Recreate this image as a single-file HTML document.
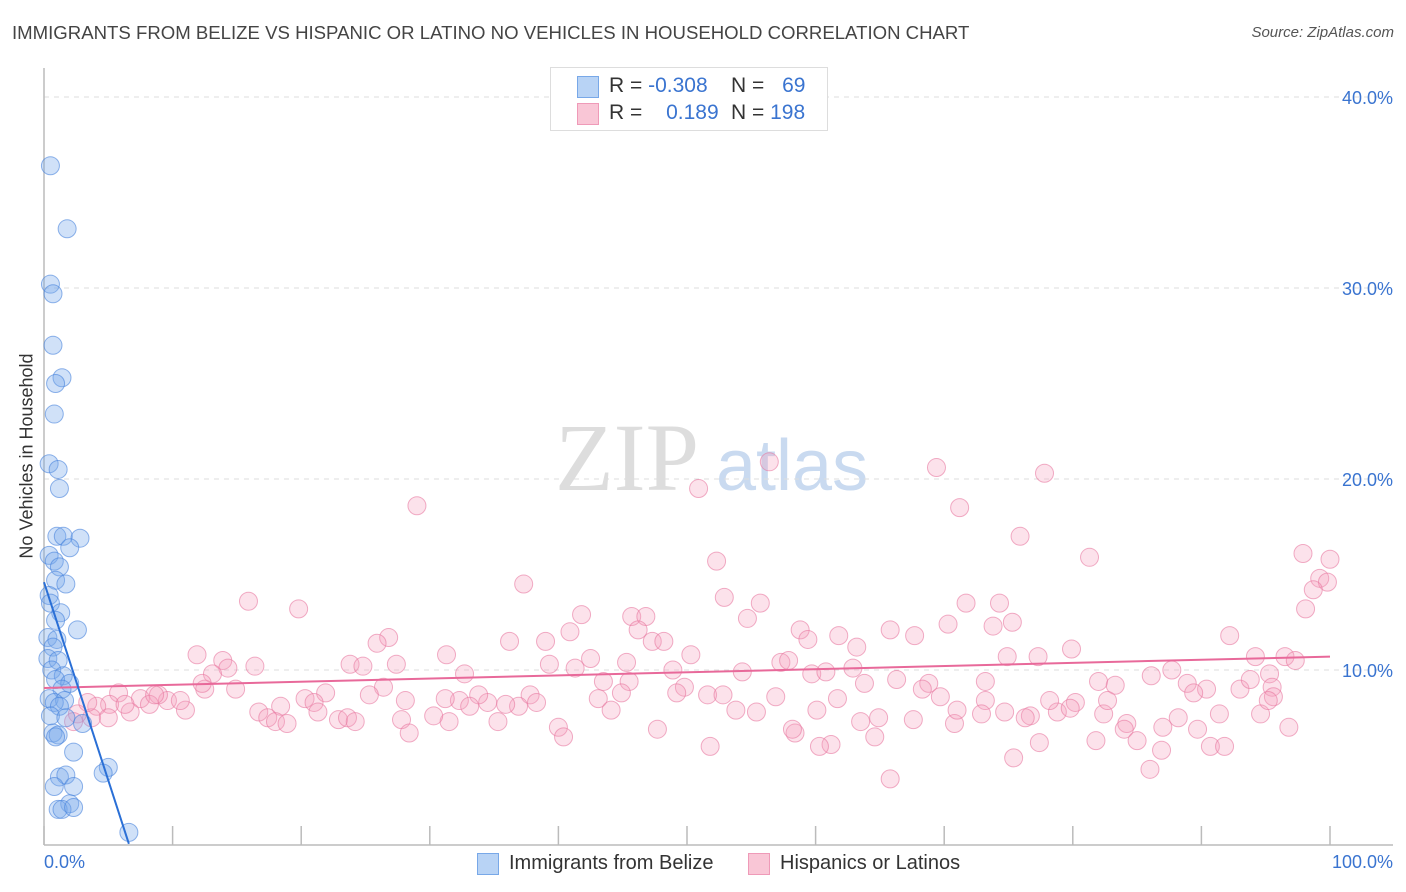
<!DOCTYPE html>
<html><head><meta charset="utf-8"><style>
body{margin:0;background:#fff;font-family:"Liberation Sans",sans-serif;}
#wrap{position:relative;width:1406px;height:892px;overflow:hidden;}
.t{position:absolute;white-space:nowrap;}
</style></head><body>
<div id="wrap">
<div class="t" style="left:12px;top:22px;font-size:18.6px;color:#444;">IMMIGRANTS FROM BELIZE VS HISPANIC OR LATINO NO VEHICLES IN HOUSEHOLD CORRELATION CHART</div>
<div class="t" style="right:12px;top:24px;font-size:15px;color:#555;font-style:italic;">Source: ZipAtlas.com</div>
<svg id="svg" width="1406" height="892" style="position:absolute;left:0;top:0"></svg>
</div>
<script>
const yTicks=[10,20,30,40];
const yTickLabels=["10.0%","20.0%","30.0%","40.0%"];
const xTicks=[0,10,20,30,40,50,60,70,80,90,100];
const blueX=[0.5,1.8,0.5,0.7,0.7,1.4,0.9,0.8,0.4,1.1,1.2,1.0,1.5,2.8,2.0,0.4,0.8,1.2,0.9,1.7,0.4,0.5,1.3,0.9,2.6,0.3,1.0,0.7,0.3,1.1,0.6,1.5,0.9,2.0,1.4,0.4,1.6,0.8,1.2,0.5,1.7,3.0,0.7,1.1,0.9,2.3,5.0,4.6,1.2,1.7,2.3,0.8,2.0,1.1,1.4,2.3,6.6];
const blueY=[36.4,33.1,30.2,29.7,27.0,25.3,25.0,23.4,20.8,20.5,19.5,17.0,17.0,16.9,16.4,16.0,15.7,15.4,14.7,14.5,13.9,13.5,13.0,12.6,12.1,11.7,11.6,11.2,10.6,10.5,10.0,9.7,9.5,9.3,9.0,8.5,8.4,8.3,8.1,7.6,7.5,7.2,6.7,6.6,6.5,5.7,4.9,4.6,4.4,4.5,3.9,3.9,3.0,2.7,2.7,2.8,1.5];
const pinkX=[29.0,56.4,50.9,69.4,77.8,71.2,75.9,81.3,97.9,100,99.2,99.8,98.7,98.1,52.3,37.3,15.9,19.8,52.9,41.8,55.7,54.7,45.7,46.8,46.2,40.9,47.3,48.2,36.2,39.0,26.8,25.9,11.9,13.9,16.4,14.3,13.1,23.8,27.4,24.8,31.3,32.7,39.3,41.3,42.5,45.3,50.3,48.9,58.8,59.4,61.8,63.2,65.8,67.7,70.3,71.7,74.3,73.8,75.3,79.9,92.2,94.2,96.5,97.3,74.9,77.3,57.3,57.9,54.3,59.7,60.8,62.9,63.8,66.3,68.8,68.3,69.7,73.2,82.0,83.3,86.1,87.7,88.9,90.4,89.4,93.0,93.8,95.3,95.5,95.6,94.6,96.8,91.4,88.2,87.0,84.2,84.0,82.4,82.7,80.2,78.8,78.2,76.7,76.3,73.2,72.9,70.8,64.9,61.7,61.2,58.4,55.4,53.8,51.6,49.8,49.2,45.5,43.5,44.9,43.1,44.1,37.8,38.3,36.9,35.9,34.5,33.8,32.3,33.1,31.2,31.5,30.3,28.1,26.4,25.3,21.9,20.3,21.0,21.3,18.4,16.7,17.4,18.0,18.9,22.9,23.6,24.2,27.8,28.4,35.3,40.0,40.4,47.7,58.2,60.3,81.8,85.0,86.9,86.0,89.7,90.7,91.8,11.0,9.6,8.9,7.5,5.8,5.1,6.7,8.2,4.1,3.7,2.6,2.3,5.0,3.4,6.3,8.6,12.5,10.6,12.3,14.9,95.2,75.4,65.8,71.0,74.7,77.4,79.8,67.6,64.6,63.5,60.1,52.8,56.9,51.8];
const pinkY=[18.6,20.9,19.5,20.6,20.3,18.5,17.0,15.9,16.1,15.8,14.8,14.6,14.2,13.2,15.7,14.5,13.6,13.2,13.8,12.9,13.5,12.7,12.8,12.8,12.1,12.0,11.5,11.5,11.5,11.5,11.7,11.4,10.8,10.5,10.2,10.1,9.8,10.3,10.3,10.2,10.8,9.8,10.3,10.1,10.6,10.4,10.8,10.0,12.1,11.6,11.8,11.2,12.1,11.8,12.4,13.5,13.5,12.3,12.5,11.1,11.8,10.7,10.7,10.5,10.7,10.7,10.4,10.5,9.9,9.8,9.9,10.1,9.3,9.5,9.3,9.0,8.6,9.4,9.4,9.2,9.7,10.0,9.3,9.0,8.8,9.0,9.5,9.8,9.1,8.6,7.7,7.0,7.7,7.5,7.0,7.2,6.9,7.7,8.4,8.3,7.8,8.4,7.6,7.5,8.4,7.7,7.2,7.5,8.5,6.1,6.7,7.8,7.9,8.7,9.1,8.8,9.4,9.4,8.8,8.5,7.9,8.7,8.3,8.1,8.2,8.3,8.7,8.4,8.1,8.5,7.3,7.6,8.4,9.1,8.7,8.8,8.5,8.3,7.8,8.1,7.8,7.5,7.3,7.2,7.4,7.5,7.3,7.4,6.7,7.3,7.0,6.5,6.9,6.9,6.0,6.3,6.3,5.8,4.8,6.9,6.0,6.0,7.9,8.4,8.7,8.5,8.8,8.2,7.8,8.2,8.1,7.5,7.7,7.3,7.5,8.3,8.2,8.7,9.0,8.4,9.3,9.0,8.4,5.4,4.3,7.9,7.8,6.2,8.0,7.4,6.5,7.3,7.9,8.7,8.6,6.0];
const blueTrend=[0,14.6,6.6,0.9];
const pinkTrend=[0,9.06,100,10.7];

const X=v=>44+v*12.86, Y=v=>861-v*19.1;
const svg=document.getElementById('svg');
const NS='http://www.w3.org/2000/svg';
function mk(tag,attrs,parent){const e=document.createElementNS(NS,tag);for(const k in attrs)e.setAttribute(k,attrs[k]);(parent||svg).appendChild(e);return e;}
let wm=mk('text',{x:555,y:490,'font-size':96,'font-family':'Liberation Serif,serif',fill:'#ddd'});wm.textContent='ZIP';


let wm2=mk('text',{x:716,y:490,'font-size':72,'font-family':'Liberation Sans,sans-serif',fill:'#c9daf0'});wm2.textContent='atlas';


yTicks.forEach((v,i)=>{
 const g=mk('line',{x1:44,x2:1393,y1:Y(v),y2:Y(v),stroke:'#ddd','stroke-dasharray':'5,5'});
 
 
 const t=mk('text',{x:1393,y:Y(v)+7,'text-anchor':'end','font-size':18,fill:'#3a74d0'});t.textContent=yTickLabels[i];
 
 
});
let ax=mk('line',{x1:44,x2:44,y1:68,y2:845,stroke:'#bbb','stroke-width':1.5});


let bx=mk('line',{x1:44,x2:1393,y1:845,y2:845,stroke:'#bbb','stroke-width':1.5});


xTicks.forEach(v=>{const l=mk('line',{x1:X(v),x2:X(v),y1:826,y2:845,stroke:'#bbb','stroke-width':1.5});
 
 });
pinkX.forEach((v,i)=>{const c=mk('circle',{cx:X(v),cy:Y(pinkY[i]),r:9,fill:'rgba(244,160,190,0.3)',stroke:'rgba(232,120,160,0.6)','stroke-width':1});
 
 });
blueX.forEach((v,i)=>{const c=mk('circle',{cx:X(v),cy:Y(blueY[i]),r:9,fill:'rgba(120,170,235,0.35)',stroke:'rgba(70,130,220,0.6)','stroke-width':1});
 
 });
let pl=mk('line',{x1:X(pinkTrend[0]),y1:Y(pinkTrend[1]),x2:X(pinkTrend[2]),y2:Y(pinkTrend[3]),stroke:'#e8699a','stroke-width':2});


let bl=mk('line',{x1:X(blueTrend[0]),y1:Y(blueTrend[1]),x2:X(blueTrend[2]),y2:Y(blueTrend[3]),stroke:'#2a6fd6','stroke-width':2});


</script>
<div class="t" style="left:44px;top:852px;font-size:18px;color:#3a74d0;">0.0%</div>
<div class="t" style="right:13px;top:852px;font-size:18px;color:#3a74d0;">100.0%</div>
<div class="t" style="left:17px;top:456px;font-size:18px;color:#333;transform:translate(-50%,-50%) rotate(-90deg);transform-origin:center;margin-left:10px;">No Vehicles in Household</div>
<div style="position:absolute;left:550px;top:67px;width:276px;height:62px;border:1px solid #ddd;background:#fff;font-size:21px;">
 <div style="position:absolute;left:26px;top:8px;width:20px;height:20px;background:#b8d3f5;border:1px solid #78a8e8;"></div>
 <div style="position:absolute;left:26px;top:35px;width:20px;height:20px;background:#f9c6d6;border:1px solid #ef9ab8;"></div>
 <div class="t" style="left:58px;top:6px;color:#333;">R = <span style="color:#3a74d0">-0.308</span></div>
 <div class="t" style="left:58px;top:33px;color:#333;">R = <span style="color:#3a74d0;margin-left:18px">0.189</span></div>
 <div class="t" style="left:180px;top:6px;color:#333;">N = <span style="color:#3a74d0;margin-left:12px">69</span></div>
 <div class="t" style="left:180px;top:33px;color:#333;">N = <span style="color:#3a74d0">198</span></div>
</div>
<div style="position:absolute;left:477px;top:853px;width:20px;height:20px;background:#b8d3f5;border:1px solid #78a8e8;"></div>
<div class="t" style="left:509px;top:852px;font-size:20px;color:#333;">Immigrants from Belize</div>
<div style="position:absolute;left:748px;top:853px;width:20px;height:20px;background:#f9c6d6;border:1px solid #ef9ab8;"></div>
<div class="t" style="left:780px;top:852px;font-size:20px;color:#333;">Hispanics or Latinos</div>
</body></html>
